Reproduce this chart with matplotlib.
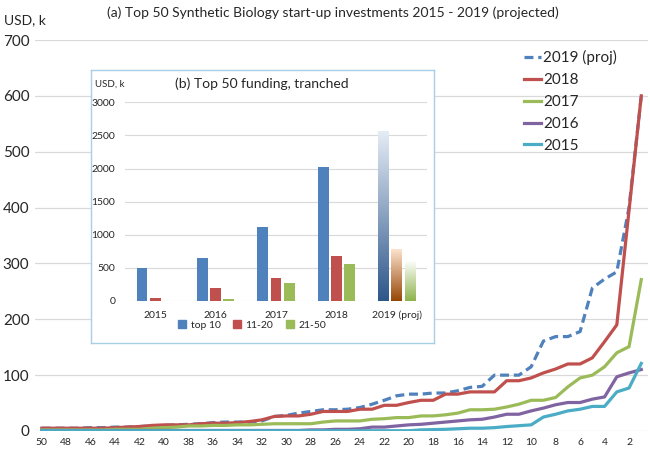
import numpy as np
import matplotlib
matplotlib.use("Agg")
import matplotlib.pyplot as plt
from matplotlib.patches import Patch
from matplotlib.colors import LinearSegmentedColormap

plt.rcParams['font.family'] = ['Lato', 'DejaVu Sans']

# ---------------- data ----------------
ranks = list(range(50, 0, -1))
s2019 = [5, 5, 5, 5, 6, 6, 7, 7, 8, 9, 10, 11, 12, 13, 15, 16, 16, 16, 18, 26,
         28, 32, 35, 38, 38, 39, 42, 48, 55, 63, 66, 66, 68, 68, 72, 78, 80, 100, 100, 100,
         115, 161, 169, 169, 178, 256, 272, 285, 400, 600]
s2018 = [5, 5, 5, 5, 5, 5, 6, 7, 8, 10, 11, 11, 11, 13, 14, 14, 15, 17, 20, 26,
         27, 27, 30, 35, 35, 35, 39, 39, 46, 46, 51, 55, 55, 66, 66, 70, 70, 70, 90, 90,
         95, 104, 111, 120, 120, 131, 160, 190, 395, 600]
s2017 = [2, 2, 2, 2, 2, 2, 3, 3, 3, 5, 6, 7, 9, 9, 10, 10, 11, 11, 12, 13,
         13, 13, 13, 16, 18, 18, 18, 21, 22, 24, 24, 27, 27, 29, 32, 38, 38, 39, 43, 48,
         55, 55, 60, 79, 95, 100, 115, 140, 151, 271]
s2016 = [1, 1, 1, 1, 1, 1, 1, 1, 1, 1, 1, 1, 1, 1, 1, 1, 1, 1, 1, 1,
         1, 1, 2, 2, 3, 3, 4, 7, 7, 9, 11, 12, 14, 16, 18, 20, 21, 25, 30, 30,
         36, 41, 47, 51, 51, 57, 61, 97, 104, 110]
s2015 = [0.5, 0.5, 0.5, 0.5, 0.5, 0.5, 0.5, 0.5, 0.5, 0.5, 0.5, 0.5, 0.5, 0.5, 0.5, 0.5, 0.5, 0.5, 0.5, 0.5,
         0.5, 0.5, 0.5, 0.5, 0.5, 0.5, 0.5, 0.5, 0.5, 0.5, 0.5, 2, 2.5, 3, 4, 5, 5, 6, 8, 9.5,
         11, 25, 30, 36, 39, 44, 44, 70, 77, 121]
series_labels = ['2019 (proj)', '2018', '2017', '2016', '2015']
xtick_labels = list(range(50, 1, -2))

years_b = ['2015', '2016', '2017', '2018', '2019 (proj)']
top10 = [495, 650, 1120, 2025, 2570]
t11_20 = [50, 195, 350, 680, 785]
t21_50 = [0, 35, 275, 560, 610]
tranche_labels = ['top 10', '11-20', '21-50']

# ---------------- styles ----------------
C_BLUE = '#4F81BD'
C_RED = '#C0504D'
C_GREEN = '#9BBB59'
C_PURPLE = '#8064A2'
C_CYAN = '#4BACC6'
GRID = '#d9d9d9'
TXT = '#262626'

W, H = 650, 449
fig = plt.figure(figsize=(W / 100, H / 100), dpi=100)

def fx(px):
    return px / W

def fy(py):
    return 1 - py / H

# ---------------- main chart ----------------
ax = fig.add_axes([fx(35), fy(431), (648 - 35) / W, (431 - 40) / H])
ax.set_xlim(50.55, 0.45)
ax.set_ylim(0, 700)
ax.set_yticks(range(0, 701, 100))
ax.set_xticks(xtick_labels)
ax.set_xticklabels([str(v) for v in xtick_labels])
ax.grid(axis='y', color=GRID, lw=0.9)
ax.set_axisbelow(True)
for s in ax.spines.values():
    s.set_visible(False)
ax.tick_params(axis='both', length=0, colors=TXT)
ax.tick_params(axis='y', labelsize=11, pad=4)
ax.tick_params(axis='x', labelsize=7.5, pad=5)

lw = 2.3
ax.plot(ranks, s2019, color=C_BLUE, lw=lw, ls=(0, (2.8, 1.5)), label=series_labels[0])
ax.plot(ranks, s2018, color=C_RED, lw=lw, label=series_labels[1])
ax.plot(ranks, s2017, color=C_GREEN, lw=lw, label=series_labels[2])
ax.plot(ranks, s2016, color=C_PURPLE, lw=lw, label=series_labels[3])
ax.plot(ranks, s2015, color=C_CYAN, lw=lw, label=series_labels[4])

leg = ax.legend(loc='upper left', bbox_to_anchor=(fx(524), fy(50)),
                bbox_transform=fig.transFigure, frameon=False, fontsize=11,
                handlelength=1.1, handletextpad=0.15, labelspacing=0.52,
                borderpad=0, borderaxespad=0)
for t in leg.get_texts():
    t.set_color(TXT)

fig.text(fx(333), fy(13), '(a) Top 50 Synthetic Biology start-up investments 2015 - 2019 (projected)',
         ha='center', va='center', fontsize=10, color=TXT)
fig.text(fx(4), fy(20), 'USD, k', ha='left', va='center', fontsize=10, color=TXT)

# ---------------- inset box ----------------
box = fig.add_axes([fx(91), fy(343), (434 - 91) / W, (343 - 70) / H])
box.set_xticks([])
box.set_yticks([])
box.set_facecolor('white')
for s in box.spines.values():
    s.set_color('#a8cfe6')
    s.set_linewidth(1.0)

bx = fig.add_axes([fx(125), fy(301), (427 - 125) / W, (301 - 102.3) / H])
bx.patch.set_alpha(0)
x = np.arange(len(years_b))
bw = 0.177
off = 0.218
b1 = bx.bar(x - off, top10, width=bw, color=C_BLUE, zorder=2)
b2 = bx.bar(x, t11_20, width=bw, color=C_RED, zorder=2)
b3 = bx.bar(x + off, t21_50, width=bw, color=C_GREEN, zorder=2)
bx.set_xlim(-0.5, len(years_b) - 0.5)
bx.set_ylim(0, 3000)
bx.set_yticks(range(0, 3001, 500))
bx.set_xticks(x)
bx.set_xticklabels(years_b)
bx.grid(axis='y', color=GRID, lw=0.8)
bx.set_axisbelow(True)
for s in bx.spines.values():
    s.set_visible(False)
bx.tick_params(axis='both', length=0, colors=TXT, labelsize=7.5)
bx.tick_params(axis='x', pad=7)
bx.tick_params(axis='y', pad=7)


def grad_fill(axis, patch, c_top, c_bottom):
    x0, y0 = patch.get_x(), patch.get_y()
    w, h = patch.get_width(), patch.get_height()
    cmap = LinearSegmentedColormap.from_list('g', [c_bottom, c_top])
    grad = np.linspace(0, 1, 256).reshape(-1, 1)
    im = axis.imshow(grad, extent=[x0, x0 + w, y0, y0 + h], origin='lower',
                     aspect='auto', cmap=cmap, zorder=2.5, interpolation='bilinear')
    im.set_clip_path(patch)
    patch.set_facecolor('none')


grad_fill(bx, b1[-1], '#e6edf6', '#2d568a')
grad_fill(bx, b2[-1], '#fde3cd', '#964606')
grad_fill(bx, b3[-1], '#ffffff', '#8fb24b')
bx.set_xlim(-0.5, len(years_b) - 0.5)
bx.set_ylim(0, 3000)

fig.text(fx(95), fy(84), 'USD, k', ha='left', va='center', fontsize=7, color=TXT)
fig.text(fx(262), fy(84), '(b) Top 50 funding, tranched', ha='center', va='center',
         fontsize=10, color=TXT)

handles = [Patch(color=C_BLUE), Patch(color=C_RED), Patch(color=C_GREEN)]
lg2 = fig.legend(handles, tranche_labels, loc='center', bbox_to_anchor=(fx(252), fy(325)),
                 ncol=3, frameon=False, fontsize=7.5, handlelength=0.8, handleheight=0.8,
                 handletextpad=0.4, columnspacing=1.2, borderpad=0)
for t in lg2.get_texts():
    t.set_color(TXT)

fig.savefig('out.png', dpi=100)
